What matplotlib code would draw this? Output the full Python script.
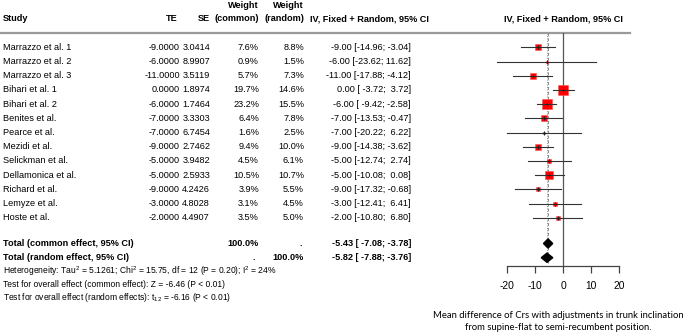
import numpy as np
import matplotlib.pyplot as plt
from matplotlib import font_manager
from matplotlib.patches import Polygon

# --- data ---
studies = ["Marrazzo et al. 1", "Marrazzo et al. 2", "Marrazzo et al. 3", "Bihari et al. 1",
           "Bihari et al. 2", "Benites et al.", "Pearce et al.", "Mezidi et al.",
           "Selickman et al.", "Dellamonica et al.", "Richard et al.", "Lemyze et al.",
           "Hoste et al."]
te = [-9, -6, -11, 0, -6, -7, -7, -9, -5, -5, -9, -3, -2]
se = [3.0414, 8.9907, 3.5119, 1.8974, 1.7464, 3.3303, 6.7454, 2.7462, 3.9482,
      2.5933, 4.2426, 4.8028, 4.4907]
w_common = [7.6, 0.9, 5.7, 19.7, 23.2, 6.4, 1.6, 9.4, 4.5, 10.5, 3.9, 3.1, 3.5]
w_random = [8.8, 1.5, 7.3, 14.6, 15.5, 7.8, 2.5, 10.0, 6.1, 10.7, 5.5, 4.5, 5.0]
ci_low = [-14.96, -23.62, -17.88, -3.72, -9.42, -13.53, -20.22, -14.38, -12.74,
          -10.08, -17.32, -12.41, -10.80]
ci_high = [-3.04, 11.62, -4.12, 3.72, -2.58, -0.47, 6.22, -3.62, 2.74, 0.08,
           -0.68, 6.41, 6.80]
pooled_labels = ["Total (common effect, 95% CI)", "Total (random effect, 95% CI)"]
pooled_est = [-5.43, -5.82]
pooled_low = [-7.08, -7.88]
pooled_high = [-3.78, -3.76]
x_ticks = [-20, -10, 0, 10, 20]

avail = set(f.name for f in font_manager.fontManager.ttflist)
body = "Liberation Sans Narrow" if "Liberation Sans Narrow" in avail else "Liberation Sans"
fs = 7.4 if body == "Liberation Sans Narrow" else 6.6
plt.rcParams['font.family'] = [body, 'DejaVu Sans']
plt.rcParams['mathtext.fontset'] = 'custom'
plt.rcParams['mathtext.rm'] = body
plt.rcParams['axes.unicode_minus'] = False

W, H = 685, 335
fig = plt.figure(figsize=(W / 100, H / 100), dpi=100)
ax_t = fig.add_axes([0, 0, 1, 1])
ax_t.set_xlim(0, W)
ax_t.set_ylim(H, 0)
ax_t.axis('off')

y0, dy = 47.3, 14.2
rows_y = [y0 + i * dy for i in range(len(studies))]
tot_y = [243.5, 257.7]

# column right edges (px)
c_te, c_se, c_wc, c_wr, c_ci = 180, 210, 259, 304, 411

# headers
hy, hy2 = 18.8, 5.8
ax_t.text(3, hy, "Study", fontsize=fs, fontweight='bold', va='center')
ax_t.text(c_te - 2, hy, "TE", fontsize=fs, fontweight='bold', va='center', ha='right')
ax_t.text(c_se, hy, "SE", fontsize=fs, fontweight='bold', va='center', ha='right')
ax_t.text(c_wc, hy, "(common)", fontsize=fs, fontweight='bold', va='center', ha='right')
ax_t.text(c_wc, hy2, "Weight", fontsize=fs, fontweight='bold', va='center', ha='right')
ax_t.text(c_wr, hy, "(random)", fontsize=fs, fontweight='bold', va='center', ha='right')
ax_t.text(c_wr, hy2, "Weight", fontsize=fs, fontweight='bold', va='center', ha='right')
ax_t.text(369, hy, "IV, Fixed + Random, 95% CI", fontsize=fs, fontweight='bold',
          va='center', ha='center')
ax_t.text(563, hy, "IV, Fixed + Random, 95% CI", fontsize=fs, fontweight='bold',
          va='center', ha='center')
ax_t.plot([0, 630], [33, 33], color='#9a9a9a', lw=1.6)

for i, y in enumerate(rows_y):
    ax_t.text(3, y, studies[i], fontsize=fs, va='center')
    ax_t.text(c_te, y, f"{te[i]:.4f}", fontsize=fs, va='center', ha='right')
    ax_t.text(c_se, y, f"{se[i]:.4f}", fontsize=fs, va='center', ha='right')
    ax_t.text(c_wc, y, f"{w_common[i]:.1f}%", fontsize=fs, va='center', ha='right')
    ax_t.text(c_wr, y, f"{w_random[i]:.1f}%", fontsize=fs, va='center', ha='right')
    ax_t.text(c_ci, y, f"{te[i]:.2f} [{ci_low[i]:6.2f}; {ci_high[i]:5.2f}]",
              fontsize=fs, va='center', ha='right')

for k, y in enumerate(tot_y):
    ax_t.text(3, y, pooled_labels[k], fontsize=fs, fontweight='bold', va='center')
    ax_t.text(c_wc if k == 0 else c_wc - 4, y, "100.0%" if k == 0 else ".", fontsize=fs,
              fontweight='bold', va='center', ha='right')
    ax_t.text(c_wr if k == 1 else c_wr - 2, y, "100.0%" if k == 1 else ".", fontsize=fs,
              fontweight='bold', va='center', ha='right')
    ax_t.text(c_ci, y, f"{pooled_est[k]:.2f} [{pooled_low[k]:6.2f}; {pooled_high[k]:5.2f}]",
              fontsize=fs, fontweight='bold', va='center', ha='right')

sfs = fs - 0.45
ax_t.text(3, 271.5, r"Heterogeneity: Tau$^2$ = 5.1261; Chi$^2$ = 15.75, df = 12 (P = 0.20); I$^2$ = 24%",
          fontsize=sfs, va='center')
ax_t.text(3, 284.5, "Test for overall effect (common effect): Z = -6.46 (P < 0.01)",
          fontsize=sfs, va='center')
ax_t.text(3, 297.5, r"Test for overall effect (random effects): t$_{12}$ = -6.16 (P < 0.01)",
          fontsize=sfs, va='center')

# forest panel
px_l, px_r, px_top, px_bot = 507.3, 619.3, 33, 266
ax = fig.add_axes([px_l / W, (H - px_bot) / H, (px_r - px_l) / W, (px_bot - px_top) / H])
ax.set_xlim(-20, 20)
ax.set_ylim(px_bot, px_top)
ax.patch.set_visible(False)
for s in ['top', 'left', 'right']:
    ax.spines[s].set_visible(False)
ax.spines['bottom'].set_color('#444444')
ax.spines['bottom'].set_linewidth(0.9)
ax.set_yticks([])
ax.set_xticks(x_ticks)
ax.tick_params(axis='x', length=5, width=0.9, color='#444444', pad=6, labelsize=7.4)

ax.plot([0, 0], [px_top, px_bot], color='#555555', lw=0.9)
ax.plot([pooled_est[0]] * 2, [px_top, px_bot - 3], color='#8a8a8a', lw=0.7, ls=(0, (3, 2)))
ax.plot([pooled_est[1]] * 2, [px_top, px_bot - 3], color='#8a8a8a', lw=0.7, ls=(0, (1, 1.5)))

wmax = max(w_common)
for i, y in enumerate(rows_y):
    side = 10.5 * np.sqrt(w_common[i] / wmax) / 1.389
    ax.plot(te[i], y, marker='s', ms=side, color='red', mec='#ff5050', mew=0.4, zorder=3)
    ax.plot([ci_low[i], ci_high[i]], [y, y], color='#333333', lw=0.8, zorder=4, clip_on=False)
    ax.plot(te[i], y, marker='+', ms=3, color='#222222', mew=0.7, zorder=5)

for k, y in enumerate(tot_y):
    dia = Polygon([[pooled_low[k], y], [pooled_est[k], y - 4.6],
                   [pooled_high[k], y], [pooled_est[k], y + 4.6]],
                  closed=True, color='black', zorder=4)
    ax.add_patch(dia)

ax_t.text(558, 315, "Mean difference of Crs with adjustments in trunk inclination",
          fontsize=6.8, family=['Lato', 'DejaVu Sans'], ha='center', va='center')
ax_t.text(558, 328, "from supine-flat to semi-recumbent position.",
          fontsize=6.8, family=['Lato', 'DejaVu Sans'], ha='center', va='center')

fig.savefig("out.png", dpi=100)
